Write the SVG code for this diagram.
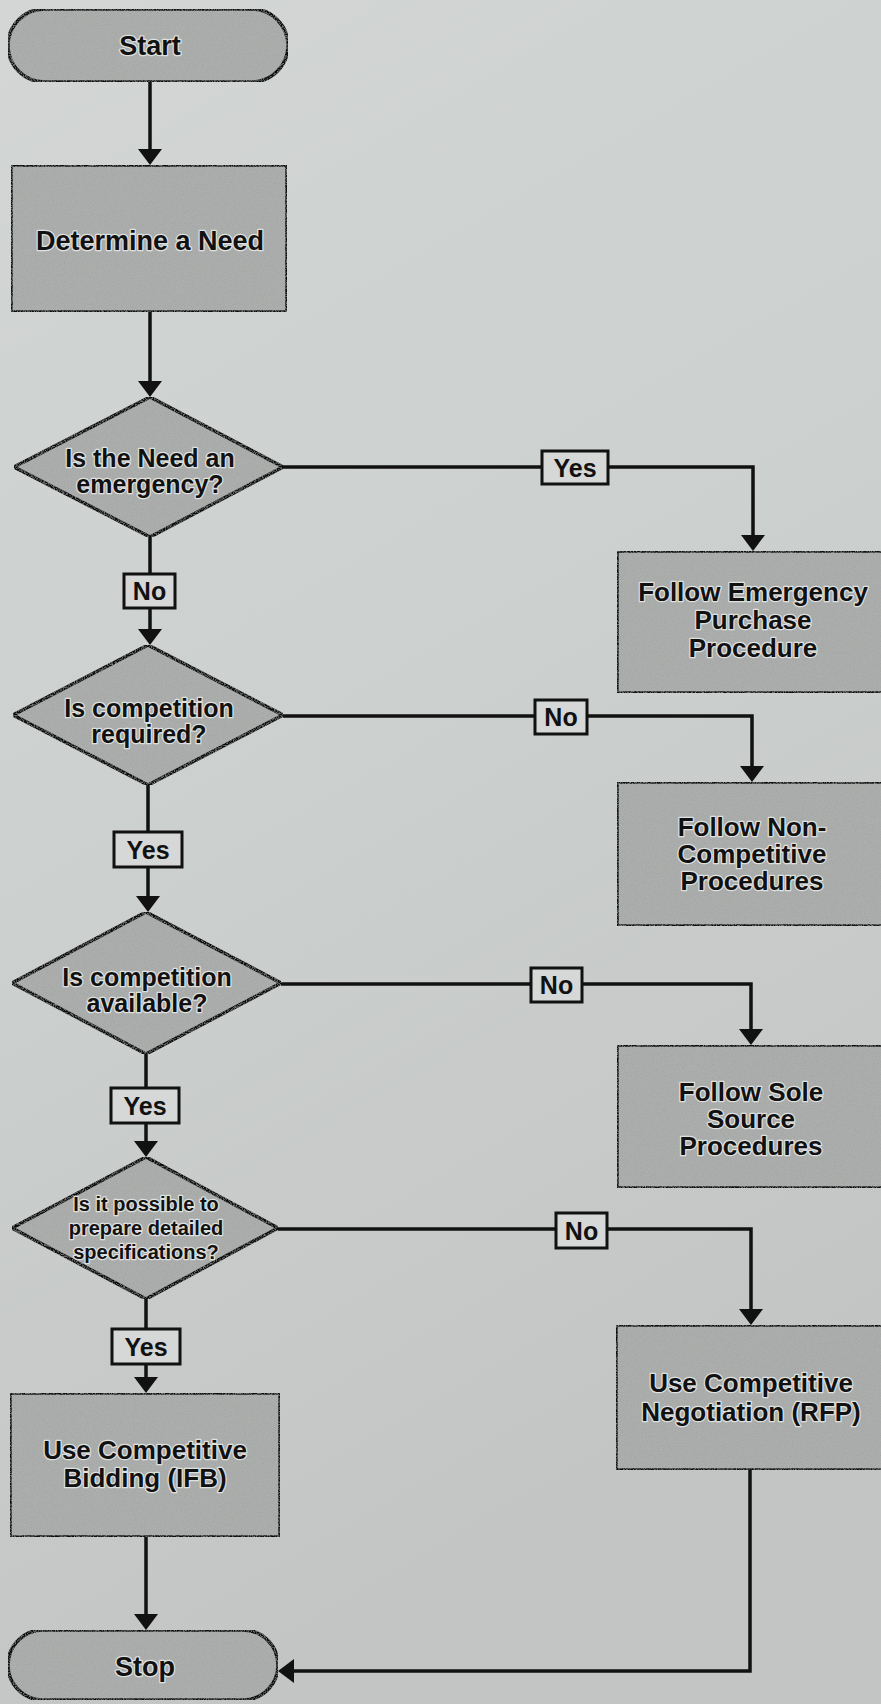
<svg xmlns="http://www.w3.org/2000/svg" width="881" height="1704" viewBox="0 0 881 1704">
  <defs>
    <linearGradient id="paper" x1="0" y1="0" x2="0.3" y2="1">
      <stop offset="0" stop-color="#d3d6d4"/>
      <stop offset="0.5" stop-color="#ccd0ce"/>
      <stop offset="1" stop-color="#c3c5c4"/>
    </linearGradient>
    <filter id="grain" x="0" y="0" width="100%" height="100%">
      <feTurbulence type="fractalNoise" baseFrequency="0.9" numOctaves="2" seed="3" result="n"/>
      <feColorMatrix in="n" type="matrix" values="0 0 0 0 0.35  0 0 0 0 0.35  0 0 0 0 0.35  0 0 0 -1.6 0.9" result="g"/>
      <feComposite in="g" in2="SourceGraphic" operator="in" result="gi"/>
      <feMerge><feMergeNode in="SourceGraphic"/><feMergeNode in="gi"/></feMerge>
    </filter>
    <marker id="arrow" markerUnits="userSpaceOnUse" viewBox="0 0 16 24" refX="8" refY="12" markerWidth="16" markerHeight="24" orient="auto">
      <path d="M0,0 L16,12 L0,24 z" fill="#111"/>
    </marker>
    <style>
      .shape { fill: #abaeac; stroke: #111; stroke-width: 3.5; }
      .node text { font-family: "Liberation Sans", Arial, sans-serif; font-weight: bold; fill: #111; text-anchor: middle; stroke: #dfe1e0; stroke-width: 2.5; paint-order: stroke; stroke-linejoin: round; }
      .t27 { font-size: 27px; }
      .t26 { font-size: 26px; }
      .t25 { font-size: 25px; }
      .t22 { font-size: 20px; }
      .conn path { fill: none; stroke: #111; stroke-width: 3.5; }
      .lbl rect { fill: #d5d8d6; stroke: #111; stroke-width: 3; }
      .lbl text { font-family: "Liberation Sans", Arial, sans-serif; font-weight: bold; font-size: 25px; fill: #111; text-anchor: middle; }
    </style>
  </defs>

  <rect x="0" y="0" width="881" height="1704" fill="url(#paper)"/>

  <g id="connectors" class="conn">
    <path d="M150,82 V157" marker-end="url(#arrow)"/>
    <path d="M150,312 V389" marker-end="url(#arrow)"/>
    <path d="M150,537 V637" marker-end="url(#arrow)"/>
    <path d="M148,785 V904" marker-end="url(#arrow)"/>
    <path d="M146,1054 V1149" marker-end="url(#arrow)"/>
    <path d="M146,1299 V1385" marker-end="url(#arrow)"/>
    <path d="M146,1537 V1622" marker-end="url(#arrow)"/>
    <path d="M283,467 H753 V543" marker-end="url(#arrow)"/>
    <path d="M283,716 H752 V774" marker-end="url(#arrow)"/>
    <path d="M281,984 H751 V1037" marker-end="url(#arrow)"/>
    <path d="M278,1229 H751 V1317" marker-end="url(#arrow)"/>
    <path d="M750,1470 V1671 H286" marker-end="url(#arrow)"/>
    <g class="lbl">
      <g id="lbl-yes1"><rect x="542" y="451" width="66" height="33"/><text x="575" y="477">Yes</text></g>
      <g id="lbl-no1"><rect x="124" y="574" width="51" height="34"/><text x="149.5" y="600">No</text></g>
      <g id="lbl-no2"><rect x="535" y="700" width="52" height="34"/><text x="561" y="726">No</text></g>
      <g id="lbl-yes2"><rect x="114" y="832" width="68" height="35"/><text x="148" y="859">Yes</text></g>
      <g id="lbl-no3"><rect x="531" y="968" width="51" height="34"/><text x="556.5" y="994">No</text></g>
      <g id="lbl-yes3"><rect x="111" y="1088" width="68" height="35"/><text x="145" y="1115">Yes</text></g>
      <g id="lbl-no4"><rect x="556" y="1213" width="51" height="35"/><text x="581.5" y="1240">No</text></g>
      <g id="lbl-yes4"><rect x="112" y="1329" width="68" height="35"/><text x="146" y="1356">Yes</text></g>
    </g>
  </g>

  <g id="start" class="node">
    <rect class="shape" x="8" y="9" width="280" height="73" rx="36.5" filter="url(#grain)"/>
    <text class="t27" x="150" y="55">Start</text>
  </g>
  <g id="determine" class="node">
    <rect class="shape" x="11" y="165" width="276" height="147" filter="url(#grain)"/>
    <text class="t27" x="150" y="250">Determine a Need</text>
  </g>
  <g id="q-emergency" class="node">
    <polygon class="shape" points="150,397 283,467 150,537 14,467" filter="url(#grain)"/>
    <text class="t25" x="150" y="467">Is the Need an</text>
    <text class="t25" x="150" y="493">emergency?</text>
  </g>
  <g id="q-required" class="node">
    <polygon class="shape" points="148,645 283,715 148,785 13,715" filter="url(#grain)"/>
    <text class="t25" x="149" y="717">Is competition</text>
    <text class="t25" x="149" y="743">required?</text>
  </g>
  <g id="q-available" class="node">
    <polygon class="shape" points="146,912 281,983 146,1054 12,983" filter="url(#grain)"/>
    <text class="t25" x="147" y="986">Is competition</text>
    <text class="t25" x="147" y="1012">available?</text>
  </g>
  <g id="q-specs" class="node">
    <polygon class="shape" points="146,1157 278,1228 146,1299 12,1228" filter="url(#grain)"/>
    <text class="t22" x="146" y="1211">Is it possible to</text>
    <text class="t22" x="146" y="1235">prepare detailed</text>
    <text class="t22" x="146" y="1259">specifications?</text>
  </g>
  <g id="ifb" class="node">
    <rect class="shape" x="10" y="1393" width="270" height="144" filter="url(#grain)"/>
    <text class="t26" x="145" y="1459">Use Competitive</text>
    <text class="t26" x="145" y="1487">Bidding (IFB)</text>
  </g>
  <g id="stop" class="node">
    <rect class="shape" x="8" y="1630" width="270" height="70" rx="35" filter="url(#grain)"/>
    <text class="t27" x="145" y="1676">Stop</text>
  </g>
  <g id="emergency" class="node">
    <rect class="shape" x="617" y="551" width="272" height="142" filter="url(#grain)"/>
    <text class="t26" x="753" y="601">Follow Emergency</text>
    <text class="t26" x="753" y="629">Purchase</text>
    <text class="t26" x="753" y="657">Procedure</text>
  </g>
  <g id="noncompetitive" class="node">
    <rect class="shape" x="617" y="782" width="272" height="144" filter="url(#grain)"/>
    <text class="t26" x="752" y="836">Follow Non-</text>
    <text class="t26" x="752" y="863">Competitive</text>
    <text class="t26" x="752" y="890">Procedures</text>
  </g>
  <g id="solesource" class="node">
    <rect class="shape" x="617" y="1045" width="272" height="143" filter="url(#grain)"/>
    <text class="t26" x="751" y="1101">Follow Sole</text>
    <text class="t26" x="751" y="1128">Source</text>
    <text class="t26" x="751" y="1155">Procedures</text>
  </g>
  <g id="rfp" class="node">
    <rect class="shape" x="616" y="1325" width="273" height="145" filter="url(#grain)"/>
    <text class="t26" x="751" y="1392">Use Competitive</text>
    <text class="t26" x="751" y="1421">Negotiation (RFP)</text>
  </g>
</svg>
